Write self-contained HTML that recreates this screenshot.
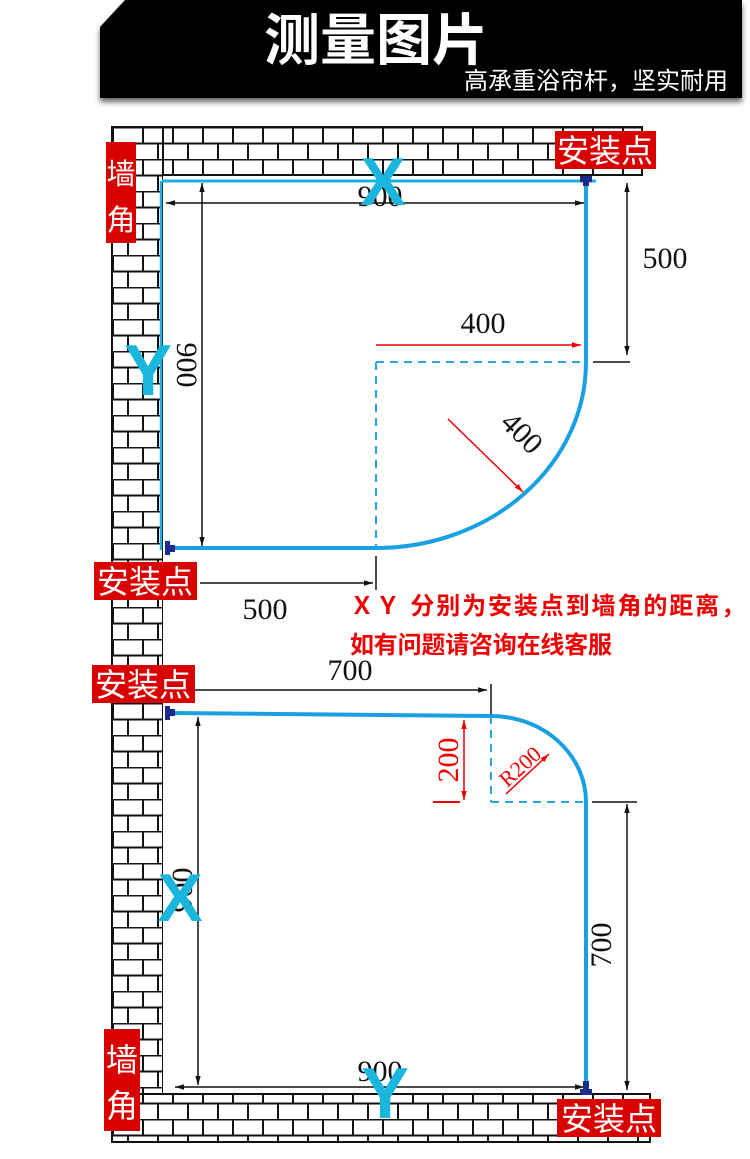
<!DOCTYPE html>
<html><head><meta charset="utf-8"><style>
html,body{margin:0;padding:0;background:#fff}
svg{display:block}
.cj{font-family:"Liberation Sans","Noto Sans CJK SC",sans-serif}
.nm{font-family:"Liberation Serif",serif;fill:#111}
</style></head><body>
<svg width="750" height="1159" viewBox="0 0 750 1159" xmlns="http://www.w3.org/2000/svg">
<defs>
<pattern id="br" patternUnits="userSpaceOnUse" x="112" y="127" width="60" height="32">
<rect width="60" height="32" fill="#fff"/>
<path d="M0 0.5H60M0 16.5H60M1 0V16M31 0V16M16 16V32M46 16V32" stroke="#111" stroke-width="2" fill="none"/>
</pattern>
<marker id="ab" viewBox="0 0 10 10" refX="10" refY="5" markerWidth="9" markerHeight="9" orient="auto-start-reverse" markerUnits="userSpaceOnUse"><path d="M0 2L10 5L0 8z" fill="#111"/></marker>
<marker id="ar" viewBox="0 0 10 10" refX="10" refY="5" markerWidth="9" markerHeight="9" orient="auto-start-reverse" markerUnits="userSpaceOnUse"><path d="M0 2L10 5L0 8z" fill="#e00"/></marker>
<filter id="sh"><feDropShadow dx="0" dy="4" stdDeviation="3" flood-color="#666"/></filter>
</defs>
<path d="M125 0H742V98H100V27Z" fill="#000" filter="url(#sh)"/>
<text x="376" y="60" text-anchor="middle" class="cj" font-size="56" font-weight="bold" fill="#fff">测量图片</text>
<text x="728" y="89" text-anchor="end" class="cj" font-size="24" fill="#fff">高承重浴帘杆，坚实耐用</text>

<rect x="112" y="127" width="530" height="48" fill="url(#br)" stroke="#111" stroke-width="2"/>
<rect x="112" y="127" width="51" height="1015" fill="url(#br)" stroke="#111" stroke-width="2"/>
<rect x="112" y="1094" width="538" height="48" fill="url(#br)" stroke="#111" stroke-width="2"/>
<rect x="163" y="176" width="420" height="917" fill="#fff"/>

<g stroke="#111" stroke-width="1.5" fill="none">
<line x1="166" y1="203" x2="584" y2="203" marker-start="url(#ab)" marker-end="url(#ab)"/>
<line x1="202" y1="183" x2="202" y2="546" marker-start="url(#ab)" marker-end="url(#ab)"/>
<line x1="627" y1="183" x2="627" y2="355" marker-start="url(#ab)" marker-end="url(#ab)"/>
<line x1="593" y1="362" x2="630" y2="362"/>
<line x1="200" y1="583" x2="373" y2="583" marker-end="url(#ab)"/>
<line x1="376" y1="556" x2="376" y2="590"/>
</g>
<g stroke="#29a6e3" stroke-width="2" stroke-dasharray="8,6" fill="none">
<line x1="376" y1="362" x2="376" y2="548"/>
<line x1="376" y1="362" x2="586" y2="362"/>
</g>
<line x1="162" y1="181" x2="596" y2="181" stroke="#1bb0e0" stroke-width="3"/>
<line x1="161" y1="181" x2="161" y2="550" stroke="#1bb0e0" stroke-width="2.5"/>
<path d="M172 548H376A210 186 0 0 0 586 362V184" stroke="#1a9fe2" stroke-width="4" fill="none"/>
<rect x="580" y="176" width="12" height="6" fill="#1c2a8a"/><rect x="583" y="180" width="6" height="6" fill="#1c2a8a"/>
<rect x="165" y="541" width="5" height="14" fill="#1c2a8a"/><rect x="168" y="545" width="7" height="7" fill="#1c2a8a"/>
<line x1="376" y1="345" x2="581" y2="345" stroke="#e00" stroke-width="1.5" marker-end="url(#ar)"/>
<line x1="448" y1="419" x2="523" y2="492" stroke="#e00" stroke-width="1.5" marker-end="url(#ar)"/>
<text x="380" y="206" text-anchor="middle" class="nm" font-size="30">900</text>
<text x="483" y="333" text-anchor="middle" class="nm" font-size="30">400</text>
<text x="665" y="268" text-anchor="middle" class="nm" font-size="30">500</text>
<text x="265" y="619" text-anchor="middle" class="nm" font-size="30">500</text>
<text transform="translate(177,365) rotate(90)" text-anchor="middle" class="nm" font-size="30">900</text>
<text transform="translate(515,440) rotate(45)" text-anchor="middle" class="nm" font-size="30">400</text>
<text x="383" y="205" text-anchor="middle" class="cj" font-size="68" font-weight="bold" fill="#1ab6dd">X</text>
<text x="148" y="395" text-anchor="middle" class="cj" font-size="72" font-weight="bold" fill="#1ab6dd">Y</text>

<text x="350" y="614" class="cj" font-size="24" font-weight="bold" fill="#e00" textLength="395" lengthAdjust="spacing">ＸＹ 分别为安装点到墙角的距离，</text>
<text x="350" y="653" class="cj" font-size="24" font-weight="bold" fill="#e00" textLength="262" lengthAdjust="spacing">如有问题请咨询在线客服</text>

<g stroke="#111" stroke-width="1.5" fill="none">
<line x1="195" y1="690" x2="487" y2="690" marker-end="url(#ab)"/>
<line x1="491" y1="684" x2="491" y2="716"/>
<line x1="198" y1="717" x2="198" y2="1085" marker-start="url(#ab)" marker-end="url(#ab)"/>
<line x1="592" y1="802" x2="637" y2="802"/>
<line x1="627" y1="804" x2="627" y2="1090" marker-start="url(#ab)" marker-end="url(#ab)"/>
<line x1="175" y1="1087" x2="584" y2="1087" marker-start="url(#ab)" marker-end="url(#ab)"/>
</g>
<g stroke="#29a6e3" stroke-width="2" stroke-dasharray="8,6" fill="none">
<line x1="491" y1="716" x2="491" y2="802"/>
<line x1="491" y1="802" x2="586" y2="802"/>
</g>
<path d="M172 713L491 716A95 86 0 0 1 586 802V1084" stroke="#1a9fe2" stroke-width="4" fill="none"/>
<rect x="165" y="706" width="5" height="14" fill="#1c2a8a"/><rect x="168" y="709" width="7" height="7" fill="#1c2a8a"/>
<rect x="580" y="1089" width="12" height="6" fill="#1c2a8a"/><rect x="583" y="1081" width="6" height="10" fill="#1c2a8a"/>
<line x1="464" y1="720" x2="464" y2="800" stroke="#e00" stroke-width="1.5" marker-start="url(#ar)" marker-end="url(#ar)"/>
<line x1="433" y1="802" x2="460" y2="802" stroke="#e00" stroke-width="2"/>
<line x1="506" y1="794" x2="549" y2="754" stroke="#e00" stroke-width="1.5" marker-end="url(#ar)"/>
<text transform="translate(458,760) rotate(-90)" text-anchor="middle" class="nm" font-size="30" style="fill:#e00">200</text>
<text transform="translate(525,772) rotate(-42)" text-anchor="middle" class="nm" font-size="22" style="fill:#e00">R200</text>
<text x="350" y="680" text-anchor="middle" class="nm" font-size="30">700</text>
<text transform="translate(192,890) rotate(-90)" text-anchor="middle" class="nm" font-size="30">900</text>
<text transform="translate(611,945) rotate(-90)" text-anchor="middle" class="nm" font-size="30">700</text>
<text x="380" y="1081" text-anchor="middle" class="nm" font-size="30">900</text>
<text x="180" y="921" text-anchor="middle" class="cj" font-size="68" font-weight="bold" fill="#1ab6dd">X</text>
<text x="385" y="1118" text-anchor="middle" class="cj" font-size="72" font-weight="bold" fill="#1ab6dd">Y</text>

<g class="cj" font-size="30" fill="#fff">
<rect x="106" y="142" width="30" height="101" fill="#d90000"/>
<text x="121" y="184" text-anchor="middle" font-size="29">墙</text><text x="121" y="230" text-anchor="middle" font-size="29">角</text>
<rect x="555" y="131" width="101" height="38" fill="#d90000"/>
<text x="605" y="162" text-anchor="middle" font-size="32">安装点</text>
<rect x="94" y="562" width="103" height="38" fill="#d90000"/>
<text x="145" y="593" text-anchor="middle" font-size="32">安装点</text>
<rect x="92" y="665" width="103" height="38" fill="#d90000"/>
<text x="143" y="696" text-anchor="middle" font-size="32">安装点</text>
<rect x="104" y="1029" width="36" height="102" fill="#d90000"/>
<text x="122" y="1071" text-anchor="middle" font-size="32">墙</text><text x="122" y="1117" text-anchor="middle" font-size="32">角</text>
<rect x="557" y="1099" width="104" height="38" fill="#d90000"/>
<text x="609" y="1130" text-anchor="middle" font-size="32">安装点</text>
</g>
</svg>
</body></html>
